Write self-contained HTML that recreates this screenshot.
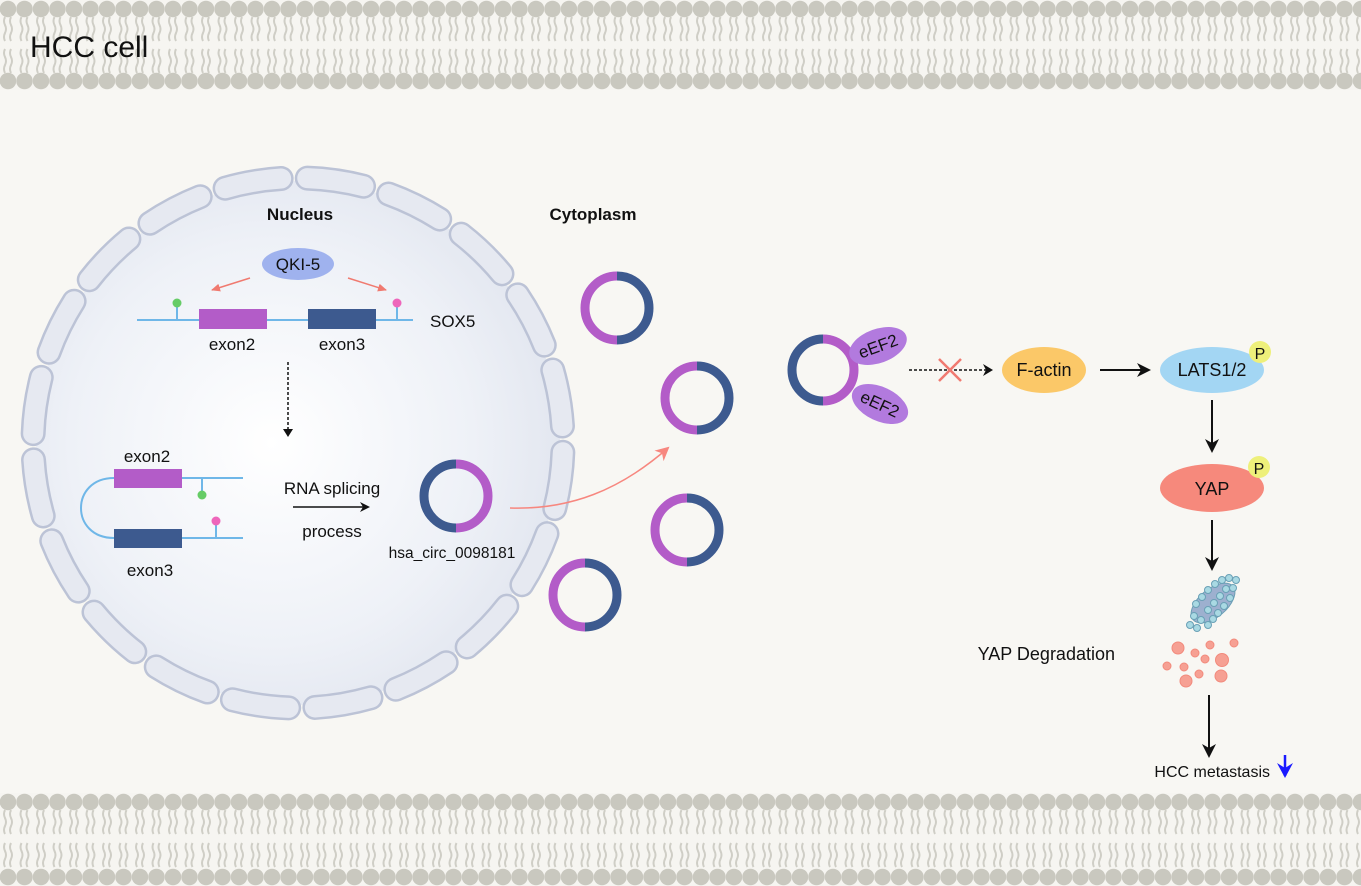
<!DOCTYPE html>
<html><head><meta charset="utf-8"><style>
html,body{margin:0;padding:0;background:#f8f7f3;}
svg{display:block;}
text{font-family:"Liberation Sans",sans-serif;}
</style></head><body>
<svg width="1361" height="886" viewBox="0 0 1361 886" xmlns="http://www.w3.org/2000/svg">
<defs>
<pattern id="mem" x="0" y="0" width="16.5" height="90" patternUnits="userSpaceOnUse">
<rect width="16.5" height="90" fill="#f6f5f1"/>
<circle cx="8" cy="9" r="8.3" fill="#c9c8bf"/>
<circle cx="8" cy="81" r="8.3" fill="#c9c8bf"/>
<path d="M5 17 q-2 4 0 8 q2 4 0 8 q-2 4 0 8 M11 17 q-2 4 0 8 q2 4 0 8 q-2 4 0 8 M5 49 q-2 4 0 8 q2 4 0 8 q-2 4 0 8 M11 49 q-2 4 0 8 q2 4 0 8 q-2 4 0 8" stroke="#cfcec6" stroke-width="2" fill="none"/>
</pattern>
<pattern id="mem2" x="0" y="793" width="16.5" height="120" patternUnits="userSpaceOnUse">
<rect width="16.5" height="120" fill="#f6f5f1"/>
<circle cx="8" cy="9" r="8.3" fill="#c9c8bf"/>
<circle cx="8" cy="84" r="8.3" fill="#c9c8bf"/>
<path d="M5 17 q-2 4 0 8 q2 4 0 8 q-2 4 0 8 M11 17 q-2 4 0 8 q2 4 0 8 q-2 4 0 8 M5 50 q-2 4 0 8 q2 4 0 8 q-2 4 0 8 M11 50 q-2 4 0 8 q2 4 0 8 q-2 4 0 8" stroke="#cfcec6" stroke-width="2" fill="none"/>
</pattern>
<radialGradient id="nuc" cx="0.45" cy="0.5" r="0.55">
<stop offset="0" stop-color="#ffffff"/><stop offset="0.7" stop-color="#eef1f7"/><stop offset="1" stop-color="#e3e7f0"/>
</radialGradient>
<marker id="ah" markerWidth="10" markerHeight="10" refX="8" refY="5" orient="auto" markerUnits="userSpaceOnUse"><path d="M0 0 L10 5 L0 10 L3 5z" fill="#111"/></marker>
<marker id="ahr" markerWidth="10" markerHeight="8" refX="8" refY="4" orient="auto" markerUnits="userSpaceOnUse"><path d="M0 0 L9 4 L0 8z" fill="#f07a70"/></marker>
<marker id="ahp" markerWidth="16" markerHeight="14" refX="12" refY="7" orient="auto" markerUnits="userSpaceOnUse"><path d="M0 0 L14 7 L0 14 L4 7z" fill="#f7877f"/></marker>
<marker id="ahb" markerWidth="14" markerHeight="14" refX="11" refY="7" orient="auto" markerUnits="userSpaceOnUse"><path d="M0 0 L14 7 L0 14 L4 7z" fill="#111"/></marker>
</defs>
<rect width="1361" height="886" fill="#f8f7f3"/>
<rect x="0" y="0" width="1361" height="90" fill="url(#mem)"/>
<rect x="0" y="793" width="1361" height="93" fill="url(#mem2)"/>
<text x="30" y="57" font-size="30" fill="#111">HCC cell</text>

<!-- nucleus -->
<circle cx="298" cy="443" r="262" fill="url(#nuc)"/>
<g transform="rotate(-88 298 443)">
<circle cx="298" cy="443" r="265" fill="none" stroke="#bcc3d6" stroke-width="25" stroke-linecap="round" stroke-dasharray="57 26.25"/>
<circle cx="298" cy="443" r="265" fill="none" stroke="#e6e9f1" stroke-width="20" stroke-linecap="round" stroke-dasharray="57 26.25"/>
</g>

<text x="300" y="220" font-size="17" font-weight="bold" text-anchor="middle" fill="#111">Nucleus</text>
<text x="593" y="220" font-size="17" font-weight="bold" text-anchor="middle" fill="#111">Cytoplasm</text>

<ellipse cx="298" cy="264" rx="36" ry="16" fill="#9fb2ee"/>
<text x="298" y="270" font-size="17" text-anchor="middle" fill="#111">QKI-5</text>
<line x1="250" y1="278" x2="212" y2="290" stroke="#f07a70" stroke-width="1.5" marker-end="url(#ahr)"/>
<line x1="348" y1="278" x2="386" y2="290" stroke="#f07a70" stroke-width="1.5" marker-end="url(#ahr)"/>
<line x1="137" y1="320" x2="413" y2="320" stroke="#6fb7e8" stroke-width="2"/>
<line x1="177" y1="320" x2="177" y2="305" stroke="#6fb7e8" stroke-width="2"/>
<circle cx="177" cy="303" r="4.5" fill="#66cc66"/>
<line x1="397" y1="320" x2="397" y2="305" stroke="#6fb7e8" stroke-width="2"/>
<circle cx="397" cy="303" r="4.5" fill="#ee66bb"/>
<rect x="199" y="309" width="68" height="20" fill="#b35cc8"/>
<rect x="308" y="309" width="68" height="20" fill="#3d5a8f"/>
<text x="430" y="327" font-size="17" fill="#111">SOX5</text>
<text x="232" y="350" font-size="17" text-anchor="middle" fill="#111">exon2</text>
<text x="342" y="350" font-size="17" text-anchor="middle" fill="#111">exon3</text>
<line x1="288" y1="362" x2="288" y2="432" stroke="#111" stroke-width="1.5" stroke-dasharray="3 2"/>
<path d="M283 429 L288 437 L293 429z" fill="#111"/>

<text x="147" y="462" font-size="17" text-anchor="middle" fill="#111">exon2</text>
<path d="M114 478 C70 478 70 538 114 538" stroke="#6fb7e8" stroke-width="2" fill="none"/>
<line x1="114" y1="478" x2="243" y2="478" stroke="#6fb7e8" stroke-width="2"/>
<line x1="114" y1="538" x2="243" y2="538" stroke="#6fb7e8" stroke-width="2"/>
<rect x="114" y="469" width="68" height="19" fill="#b35cc8"/>
<rect x="114" y="529" width="68" height="19" fill="#3d5a8f"/>
<line x1="202" y1="478" x2="202" y2="492" stroke="#6fb7e8" stroke-width="2"/>
<circle cx="202" cy="495" r="4.5" fill="#66cc66"/>
<line x1="216" y1="538" x2="216" y2="524" stroke="#6fb7e8" stroke-width="2"/>
<circle cx="216" cy="521" r="4.5" fill="#ee66bb"/>
<text x="150" y="576" font-size="17" text-anchor="middle" fill="#111">exon3</text>
<text x="332" y="494" font-size="17" text-anchor="middle" fill="#111">RNA splicing</text>
<line x1="293" y1="507" x2="368" y2="507" stroke="#111" stroke-width="1.5" marker-end="url(#ah)"/>
<text x="332" y="537" font-size="17" text-anchor="middle" fill="#111">process</text>
<g transform="translate(456,496)">
<path d="M0 -32 A32 32 0 0 0 0 32" stroke="#3d5a8f" stroke-width="9" fill="none"/>
<path d="M0 -32 A32 32 0 0 1 0 32" stroke="#b35cc8" stroke-width="9" fill="none"/>
</g>
<text x="452" y="558" font-size="15.5" text-anchor="middle" fill="#111">hsa_circ_0098181</text>
<path d="M510 508 C570 510 620 490 668 448" stroke="#f7877f" stroke-width="1.5" fill="none" marker-end="url(#ahp)"/>

<!-- cytoplasm rings -->
<g transform="translate(617,308)"><path d="M0 -32 A32 32 0 0 0 0 32" stroke="#b35cc8" stroke-width="9" fill="none"/><path d="M0 -32 A32 32 0 0 1 0 32" stroke="#3d5a8f" stroke-width="9" fill="none"/></g>
<g transform="translate(697,398)"><path d="M0 -32 A32 32 0 0 0 0 32" stroke="#b35cc8" stroke-width="9" fill="none"/><path d="M0 -32 A32 32 0 0 1 0 32" stroke="#3d5a8f" stroke-width="9" fill="none"/></g>
<g transform="translate(687,530)"><path d="M0 -32 A32 32 0 0 0 0 32" stroke="#b35cc8" stroke-width="9" fill="none"/><path d="M0 -32 A32 32 0 0 1 0 32" stroke="#3d5a8f" stroke-width="9" fill="none"/></g>
<g transform="translate(585,595)"><path d="M0 -32 A32 32 0 0 0 0 32" stroke="#b35cc8" stroke-width="9" fill="none"/><path d="M0 -32 A32 32 0 0 1 0 32" stroke="#3d5a8f" stroke-width="9" fill="none"/></g>

<!-- eEF2 complex -->
<g transform="translate(823,370)">
<path d="M0 -31 A31 31 0 0 0 0 31" stroke="#3d5a8f" stroke-width="9" fill="none"/>
<path d="M0 -31 A31 31 0 0 1 0 31" stroke="#b35cc8" stroke-width="9" fill="none"/>
</g>
<ellipse cx="878" cy="346" rx="30" ry="17" fill="#b27ade" transform="rotate(-20 878 346)"/>
<text x="878" y="352" font-size="17" text-anchor="middle" fill="#111" transform="rotate(-20 878 346)">eEF2</text>
<ellipse cx="880" cy="404" rx="30" ry="17" fill="#b27ade" transform="rotate(25 880 404)"/>
<text x="880" y="410" font-size="17" text-anchor="middle" fill="#111" transform="rotate(25 880 404)">eEF2</text>
<line x1="909" y1="370" x2="990" y2="370" stroke="#111" stroke-width="1.5" stroke-dasharray="3 2"/>
<path d="M983 364 L993 370 L983 376 L986 370z" fill="#111"/>
<path d="M939 359 L961 381 M961 359 L939 381" stroke="#f07a70" stroke-width="2.5"/>

<ellipse cx="1044" cy="370" rx="42" ry="23" fill="#fbc868"/>
<text x="1044" y="376" font-size="18" text-anchor="middle" fill="#111">F-actin</text>
<line x1="1100" y1="370" x2="1148" y2="370" stroke="#111" stroke-width="2" marker-end="url(#ahb)"/>
<ellipse cx="1212" cy="370" rx="52" ry="23" fill="#a3d6f3"/>
<text x="1212" y="376" font-size="18" text-anchor="middle" fill="#111">LATS1/2</text>
<circle cx="1260" cy="352" r="11" fill="#eef07a"/>
<text x="1260" y="359" font-size="16" text-anchor="middle" fill="#111">P</text>
<line x1="1212" y1="400" x2="1212" y2="450" stroke="#111" stroke-width="2" marker-end="url(#ahb)"/>
<ellipse cx="1212" cy="488" rx="52" ry="24" fill="#f6897c"/>
<text x="1212" y="495" font-size="18" text-anchor="middle" fill="#111">YAP</text>
<circle cx="1259" cy="467" r="11" fill="#eef07a"/>
<text x="1259" y="474" font-size="16" text-anchor="middle" fill="#111">P</text>
<line x1="1212" y1="520" x2="1212" y2="568" stroke="#111" stroke-width="2" marker-end="url(#ahb)"/>

<!-- proteasome -->
<g fill="#a9d9e3" stroke="#6aa0b6" stroke-width="1">
<ellipse cx="1213" cy="603" rx="26" ry="14" transform="rotate(-40 1213 603)" fill="#9db0cf"/>
<circle cx="1194" cy="616" r="3.5"/><circle cx="1201" cy="620" r="3.5"/><circle cx="1208" cy="625" r="3.5"/><circle cx="1190" cy="625" r="3.5"/><circle cx="1197" cy="628" r="3.5"/>
<circle cx="1196" cy="604" r="3.5"/><circle cx="1202" cy="597" r="3.5"/><circle cx="1208" cy="590" r="3.5"/><circle cx="1215" cy="584" r="3.5"/><circle cx="1222" cy="580" r="3.5"/><circle cx="1229" cy="578" r="3.5"/><circle cx="1236" cy="580" r="3.5"/>
<circle cx="1208" cy="610" r="3.5"/><circle cx="1214" cy="603" r="3.5"/><circle cx="1220" cy="596" r="3.5"/><circle cx="1226" cy="589" r="3.5"/><circle cx="1230" cy="598" r="3.5"/><circle cx="1224" cy="606" r="3.5"/><circle cx="1218" cy="613" r="3.5"/><circle cx="1213" cy="619" r="3.5"/><circle cx="1233" cy="588" r="3.5"/>
</g>
<g fill="#f6a093" stroke="#f28a7c" stroke-width="1">
<circle cx="1178" cy="648" r="6"/><circle cx="1210" cy="645" r="4"/><circle cx="1234" cy="643" r="4"/><circle cx="1195" cy="653" r="4"/><circle cx="1205" cy="659" r="4"/><circle cx="1222" cy="660" r="6.5"/><circle cx="1167" cy="666" r="4"/><circle cx="1184" cy="667" r="4"/><circle cx="1199" cy="674" r="4"/><circle cx="1186" cy="681" r="6"/><circle cx="1221" cy="676" r="6"/>
</g>
<text x="1115" y="660" font-size="18" text-anchor="end" fill="#111">YAP Degradation</text>
<line x1="1209" y1="695" x2="1209" y2="755" stroke="#111" stroke-width="2" marker-end="url(#ahb)"/>
<text x="1270" y="777" font-size="16" text-anchor="end" fill="#111">HCC metastasis</text>
<line x1="1285" y1="755" x2="1285" y2="776" stroke="#1a1aff" stroke-width="2.5"/>
<path d="M1277 763 L1285 778 L1293 763 L1285 768z" fill="#1a1aff"/>
</svg>
</body></html>
